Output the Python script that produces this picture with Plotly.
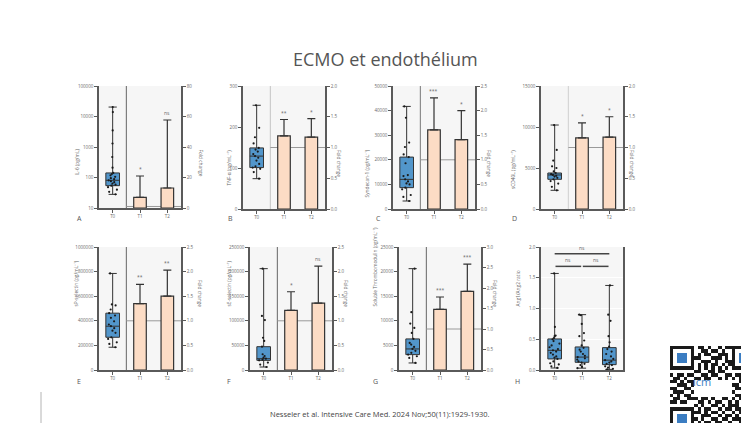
import plotly.graph_objects as go

W, H = 749, 423
cats = ["T0", "T1", "T2"]

# ---------------- data ----------------
# T0 box statistics: [min, q1, median, q3, max]; fold change bars at T1, T2
il6_t0_stats = [28, 54, 81, 141, 20400]
il6_t0_points = [28, 34, 40, 48, 54, 58, 63, 70, 76, 81, 88, 95, 105, 118, 130, 141, 210, 470, 1300, 3500, 14000, 20400]
il6_fold = [7.0, 13.1]
il6_fold_err_top = [21.0, 57.7]
il6_sig = ["*", "ns"]
il6_left_ticks = [10, 100, 1000, 10000, 100000]
il6_right_ticks = [0, 20, 40, 60, 80]

tnf_t0_stats = [74, 101, 129, 149, 253]
tnf_t0_points = [74, 90, 98, 101, 104, 110, 118, 125, 129, 134, 140, 145, 149, 160, 175, 198, 253]
tnf_fold = [1.19, 1.17]
tnf_fold_err_top = [1.455, 1.47]
tnf_sig = ["**", "*"]
tnf_left_ticks = [0, 100, 200, 300]
tnf_right_ticks = [0.0, 0.5, 1.0, 1.5, 2.0]

syn_t0_stats = [3250, 8670, 12050, 21100, 41700]
syn_t0_points = [3250, 4900, 5700, 8000, 8670, 10000, 10400, 11200, 12050, 13400, 13800, 18600, 21100, 22200, 25200, 27000, 37100, 41700]
syn_fold = [1.61, 1.41]
syn_fold_err_top = [2.26, 2.0]
syn_sig = ["***", "*"]
syn_left_ticks = [0, 10000, 20000, 30000, 40000, 50000]
syn_right_ticks = [0.0, 0.5, 1.0, 1.5, 2.0, 2.5]

cd40_t0_stats = [2280, 3620, 4150, 4390, 10240]
cd40_t0_points = [2280, 2700, 3100, 3400, 3620, 3800, 3950, 4050, 4150, 4250, 4390, 4600, 5000, 5200, 5900, 7200, 10240]
cd40_fold = [1.155, 1.17]
cd40_fold_err_top = [1.40, 1.50]
cd40_sig = ["*", "*"]
cd40_left_ticks = [0, 5000, 10000, 15000]
cd40_right_ticks = [0.0, 0.5, 1.0, 1.5, 2.0]

psel_t0_stats = [185000, 266000, 356000, 462000, 785000]
psel_t0_points = [185000, 212000, 225000, 253000, 266000, 302000, 320000, 340000, 356000, 370000, 396000, 424000, 443000, 462000, 492000, 525000, 533000, 785000]
psel_fold = [1.35, 1.50]
psel_fold_err_top = [1.74, 2.03]
psel_sig = ["**", "**"]
psel_left_ticks = [0, 200000, 400000, 600000, 800000, 1000000]
psel_right_ticks = [0.0, 0.5, 1.0, 1.5, 2.0, 2.5]

esel_t0_stats = [6100, 19600, 23000, 47400, 206000]
esel_t0_points = [6100, 11000, 15000, 19600, 21000, 23000, 25000, 28500, 32000, 47400, 59000, 65500, 101500, 110000, 206000]
esel_fold = [1.21, 1.36]
esel_fold_err_top = [1.59, 2.11]
esel_sig = ["*", "ns"]
esel_left_ticks = [0, 50000, 100000, 150000, 200000, 250000]
esel_right_ticks = [0.0, 0.5, 1.0, 1.5, 2.0, 2.5]

tm_t0_stats = [1430, 3125, 4280, 6320, 20600]
tm_t0_points = [1430, 2450, 2790, 3125, 3500, 3900, 4280, 4700, 5160, 5500, 6320, 7540, 8560, 9440, 11750, 20600]
tm_fold = [1.48, 1.92]
tm_fold_err_top = [1.78, 2.58]
tm_sig = ["***", "***"]
tm_left_ticks = [0, 5000, 10000, 15000, 20000, 25000]
tm_right_ticks = [0.0, 0.5, 1.0, 1.5, 2.0, 2.5, 3.0]

# Panel H: Ang1/Ang2 ratio, box stats per time point [min, q1, median, q3, max]
ang_stats = {
    "T0": [0.033, 0.18, 0.32, 0.505, 1.57],
    "T1": [0.03, 0.125, 0.21, 0.375, 0.90],
    "T2": [0.01, 0.087, 0.16, 0.364, 1.375],
}
ang_points = {
    "T0": [0.033, 0.06, 0.09, 0.11, 0.14, 0.18, 0.2, 0.22, 0.25, 0.28, 0.3, 0.32, 0.34, 0.37, 0.4, 0.43, 0.47, 0.5, 0.52, 0.55, 0.56, 0.7, 1.57],
    "T1": [0.03, 0.05, 0.08, 0.1, 0.12, 0.14, 0.17, 0.19, 0.21, 0.23, 0.26, 0.3, 0.33, 0.36, 0.4, 0.48, 0.55, 0.6, 0.75, 0.89, 0.90],
    "T2": [0.01, 0.02, 0.04, 0.06, 0.08, 0.1, 0.12, 0.14, 0.16, 0.18, 0.22, 0.26, 0.3, 0.34, 0.38, 0.45, 0.55, 0.8, 0.9, 1.375],
}
ang_brackets = [(0, 2, 1.89, "ns"), (0, 1, 1.685, "ns"), (1, 2, 1.685, "ns")]
ang_left_ticks = [0.0, 0.5, 1.0, 1.5, 2.0]

# decorative QR code pattern (0 white, 1 black, 2 blue)
qr_rows = [
    "1111111" "01101001011" "1111111",
    "1000001" "00110110100" "1000001",
    "1022201" "01011001110" "1022201",
    "1022201" "11000111010" "1022201",
    "1022201" "00111010011" "1022201",
    "1000001" "01010110101" "1000001",
    "1111111" "01010101010" "1111111",
    "0000000" "11001101100" "0000000",
    "1011011" "00110110011" "0110101",
    "0110100" "11011001010" "1011010",
    "1101011" "00000000000" "0010111",
    "0011101" "00000000000" "1101001",
    "1100110" "00000000000" "0110110",
    "0111001" "00000000000" "1001011",
    "1010110" "00000000000" "0111100",
    "0110011" "10110100110" "1010010",
    "1101100" "01101011001" "0101101",
    "0000000" "10100110101" "1100110",
    "1111111" "01011001011" "0110011",
    "1000001" "11010110100" "1011100",
    "1022201" "00111001011" "0101011",
    "1022201" "10100110110" "1110100",
    "1022201" "01011011001" "0011011",
    "1000001" "11100100111" "1101010",
    "1111111" "01010110100" "1010111",
]

# ---------------- layout geometry ----------------
panels = [
    dict(letter="A", title="IL-6 (pg/mL)", stats=il6_t0_stats, pts=il6_t0_points, fold=il6_fold,
         err=il6_fold_err_top, sig=il6_sig, lt=il6_left_ticks, rt=il6_right_ticks, log=True,
         px=(91, 173, 78, 200), loff=27, lpos=(67, 211), div="#666"),
    dict(letter="B", title="TNF-α (pg/mL⁻¹)", stats=tnf_t0_stats, pts=tnf_t0_points, fold=tnf_fold,
         err=tnf_fold_err_top, sig=tnf_sig, lt=tnf_left_ticks, rt=tnf_right_ticks, log=False,
         px=(235, 317, 78, 201), loff=20, lpos=(218, 211), div="#c4c4c4"),
    dict(letter="C", title="Syndecan-1 (pg/mL⁻¹)", stats=syn_t0_stats, pts=syn_t0_points, fold=syn_fold,
         err=syn_fold_err_top, sig=syn_sig, lt=syn_left_ticks, rt=syn_right_ticks, log=False,
         px=(385, 467, 78, 201), loff=27, lpos=(370, 211), div="#777"),
    dict(letter="D", title="sCD40L (pg/mL⁻¹)", stats=cd40_t0_stats, pts=cd40_t0_points, fold=cd40_fold,
         err=cd40_fold_err_top, sig=cd40_sig, lt=cd40_left_ticks, rt=cd40_right_ticks, log=False,
         px=(533, 615, 78, 201), loff=23, lpos=(511, 211), div="#cfcfcf"),
    dict(letter="E", title="sP-selectin (pg/mL⁻¹)", stats=psel_t0_stats, pts=psel_t0_points, fold=psel_fold,
         err=psel_fold_err_top, sig=psel_sig, lt=psel_left_ticks, rt=psel_right_ticks, log=False,
         px=(91, 173, 239, 362), loff=29, lpos=(67, 380), div="#666"),
    dict(letter="F", title="sE-selectin (pg/mL⁻¹)", stats=esel_t0_stats, pts=esel_t0_points, fold=esel_fold,
         err=esel_fold_err_top, sig=esel_sig, lt=esel_left_ticks, rt=esel_right_ticks, log=False,
         px=(242, 324, 239, 362), loff=27, lpos=(217, 380), div="#666"),
    dict(letter="G", title="Soluble Thrombomodulin (pg/mL⁻¹)", stats=tm_t0_stats, pts=tm_t0_points, fold=tm_fold,
         err=tm_fold_err_top, sig=tm_sig, lt=tm_left_ticks, rt=tm_right_ticks, log=False,
         px=(391, 473, 239, 362), loff=25, lpos=(367, 380), div="#666"),
]
h_px = (533, 615, 239, 362)

BLUE = "#5296cb"
PEACH = "#fcdcc5"
DARK = "#333333"
AXC = "#5a5a5a"
FONT = "Open Sans"
TICKF = dict(size=4.5, color="#6a6a6a", family=FONT)


def nm(prefix, i):
    return prefix if i == 1 else f"{prefix}{i}"


def fmt(v, dec):
    return f"{v:.1f}" if dec else f"{int(v)}"


fig = go.Figure()
lay = {}
shapes = []
ann = []

base_axis = dict(showline=True, linecolor=AXC, linewidth=1.5, ticks="outside", ticklen=3,
                 tickwidth=1, tickcolor=AXC, tickfont=TICKF, showgrid=False, zeroline=False,
                 automargin=False, fixedrange=True)


def make_x(k, px, yref):
    x0, x1, yt, yb = px
    lay[nm("xaxis", k)] = dict(base_axis, domain=[x0 / W, x1 / W], anchor=yref, type="category",
                               categoryorder="array", categoryarray=cats, range=[-0.5, 2.5])


for k, p in enumerate(panels, start=1):
    x0, x1, yt, yb = p["px"]
    dy = [1 - yb / H, 1 - yt / H]
    xr = nm("x", k)
    yl_i, yr_i = 2 * k - 1, 2 * k
    ylr, yrr = nm("y", yl_i), nm("y", yr_i)
    make_x(k, p["px"], ylr)
    left = dict(base_axis, domain=dy, anchor=xr, tickvals=p["lt"], ticktext=[str(v) for v in p["lt"]])
    if p["log"]:
        left.update(type="log", range=[1, 5])
    else:
        left.update(range=[p["lt"][0], p["lt"][-1]])
    lay[nm("yaxis", yl_i)] = left
    dec = any(isinstance(v, float) for v in p["rt"])
    lay[nm("yaxis", yr_i)] = dict(base_axis, domain=dy, anchor=xr, overlaying=ylr, side="right",
                                  range=[p["rt"][0], p["rt"][-1]], tickvals=p["rt"],
                                  ticktext=[fmt(v, dec) for v in p["rt"]])
    s = p["stats"]
    fig.add_trace(go.Box(x=["T0"], lowerfence=[s[0]], q1=[s[1]], median=[s[2]], q3=[s[3]], upperfence=[s[4]],
                         fillcolor=BLUE, line=dict(color=DARK, width=1), width=0.5, whiskerwidth=0.6,
                         boxpoints=False, xaxis=xr, yaxis=ylr, showlegend=False, hoverinfo="skip"))
    fig.add_trace(go.Box(x=["T0"] * len(p["pts"]), y=p["pts"], boxpoints="all", jitter=0.8, pointpos=0,
                         fillcolor="rgba(0,0,0,0)", line=dict(color="rgba(0,0,0,0)", width=0),
                         marker=dict(color="#1a1a1a", size=2.2), width=0.5,
                         xaxis=xr, yaxis=ylr, showlegend=False, hoverinfo="skip"))
    errs = [t - f for t, f in zip(p["err"], p["fold"])]
    fig.add_trace(go.Bar(x=["T1", "T2"], y=p["fold"], width=0.46,
                         marker=dict(color=PEACH, line=dict(color=DARK, width=1.2)),
                         error_y=dict(type="data", symmetric=False, array=errs, arrayminus=[0, 0],
                                      color=DARK, thickness=1.2, width=4),
                         xaxis=xr, yaxis=yrr, showlegend=False, hoverinfo="skip"))
    # divider between raw values and fold change, and fold-change = 1 reference
    shapes.append(dict(type="line", xref=xr, yref=f"{ylr} domain", x0=0.5, x1=0.5, y0=0, y1=1,
                       line=dict(color=p["div"], width=1), layer="below"))
    shapes.append(dict(type="line", xref=xr, yref=yrr, x0=0.5, x1=2.5, y0=1, y1=1,
                       line=dict(color="#9a9a9a", width=1), layer="below"))
    for c, top, sg in zip(["T1", "T2"], p["err"], p["sig"]):
        ann.append(dict(x=c, y=top, xref=xr, yref=yrr, text=sg, showarrow=False, yanchor="bottom",
                        yshift=2, font=dict(size=5, color="#666", family=FONT)))
    ymid = 1 - (yt + yb) / 2 / H
    ann.append(dict(x=(x0 - p["loff"]) / W, y=ymid, xref="paper", yref="paper", text=p["title"],
                    textangle=-90, showarrow=False, font=dict(size=4.8, color="#666", family=FONT)))
    ann.append(dict(x=(x1 + 14) / W, y=ymid, xref="paper", yref="paper", text="Fold change",
                    textangle=90, showarrow=False, font=dict(size=4.8, color="#666", family=FONT)))
    ann.append(dict(x=p["lpos"][0] / W, y=1 - p["lpos"][1] / H, xref="paper", yref="paper",
                    text=p["letter"], showarrow=False, font=dict(size=7, color="#555", family=FONT)))

# ---------------- panel H ----------------
k = 8
xr, ylr = nm("x", k), nm("y", 15)
x0, x1, yt, yb = h_px
make_x(k, h_px, ylr)
lay["yaxis15"] = dict(base_axis, domain=[1 - yb / H, 1 - yt / H], anchor=xr, range=[0, 2.0],
                      tickvals=ang_left_ticks, ticktext=[f"{v:.1f}" for v in ang_left_ticks],
                      showgrid=True, gridcolor="white", gridwidth=1, mirror=True)
fig.add_trace(go.Box(x=cats, lowerfence=[ang_stats[c][0] for c in cats], q1=[ang_stats[c][1] for c in cats],
                     median=[ang_stats[c][2] for c in cats], q3=[ang_stats[c][3] for c in cats],
                     upperfence=[ang_stats[c][4] for c in cats], fillcolor=BLUE,
                     line=dict(color=DARK, width=1), width=0.5, whiskerwidth=0.6, boxpoints=False,
                     xaxis=xr, yaxis=ylr, showlegend=False, hoverinfo="skip"))
hx, hy = [], []
for c in cats:
    hx += [c] * len(ang_points[c])
    hy += ang_points[c]
fig.add_trace(go.Box(x=hx, y=hy, boxpoints="all", jitter=0.8, pointpos=0, fillcolor="rgba(0,0,0,0)",
                     line=dict(color="rgba(0,0,0,0)", width=0), marker=dict(color="#1a1a1a", size=2.2),
                     width=0.5, xaxis=xr, yaxis=ylr, showlegend=False, hoverinfo="skip"))
for i, j, h, t in ang_brackets:
    inset = 0.0 if (j - i) > 1 else 0.03
    shapes.append(dict(type="line", xref=xr, yref=ylr, x0=i + inset, x1=j - inset, y0=h, y1=h,
                       line=dict(color="#444", width=1.5)))
    ann.append(dict(x=(i + j) / 2, y=h, xref=xr, yref=ylr, text=t, showarrow=False, yanchor="bottom",
                    yshift=1, font=dict(size=5, color="#666", family=FONT)))
ann.append(dict(x=(x0 - 19) / W, y=1 - (yt + yb) / 2 / H, xref="paper", yref="paper", text="Ang1/Ang2 ratio",
                textangle=-90, showarrow=False, font=dict(size=4.8, color="#666", family=FONT)))
ann.append(dict(x=514 / W, y=1 - 380 / H, xref="paper", yref="paper", text="H", showarrow=False,
                font=dict(size=7, color="#555", family=FONT)))

# ---------------- QR code decoration ----------------
qr_z = [[int(ch) for ch in row] for row in qr_rows]
fig.add_trace(go.Heatmap(z=qr_z, xaxis="x9", yaxis="y17", showscale=False, hoverinfo="skip",
                         zmin=0, zmax=2,
                         colorscale=[[0, "white"], [0.33, "white"], [0.34, "#1a1a1a"], [0.66, "#1a1a1a"],
                                     [0.67, "#3b7dc2"], [1, "#3b7dc2"]]))
lay["xaxis9"] = dict(domain=[662 / W, 748 / W], anchor="y17", visible=False, fixedrange=True)
lay["yaxis17"] = dict(domain=[0, 1 - 338 / H], anchor="x9", visible=False, autorange="reversed", fixedrange=True)
ann.append(dict(x=705 / W, y=1 - 383 / H, xref="paper", yref="paper", text="icm", showarrow=False,
                font=dict(size=11, color="#3b7dc2", family=FONT)))

# ---------------- titles and frame ----------------
ann.append(dict(x=378 / W, y=1 - 37 / H, xref="paper", yref="paper", text="ECMO et endothélium",
                showarrow=False, font=dict(size=18, color="#555", family=FONT)))
ann.append(dict(x=372 / W, y=1 - 413 / H, xref="paper", yref="paper",
                text="Nesseler et al. Intensive Care Med. 2024 Nov;50(11):1929-1930.",
                showarrow=False, font=dict(size=7.5, color="#444", family=FONT)))
shapes.append(dict(type="line", xref="paper", yref="paper", x0=741 / W, x1=741 / W, y0=1 - 333 / H, y1=1,
                   line=dict(color="#b4b4b4", width=1)))
shapes.append(dict(type="line", xref="paper", yref="paper", x0=33 / W, x1=33 / W, y0=0, y1=1 - 384 / H,
                   line=dict(color="#b4b4b4", width=1)))

fig.update_layout(width=W, height=H, margin=dict(l=0, r=0, t=0, b=0), paper_bgcolor="white",
                  plot_bgcolor="#f6f6f6", boxmode="overlay", barmode="overlay", showlegend=False,
                  font=dict(family=FONT), shapes=shapes, annotations=ann, **lay)

fig.write_html("out.html")
